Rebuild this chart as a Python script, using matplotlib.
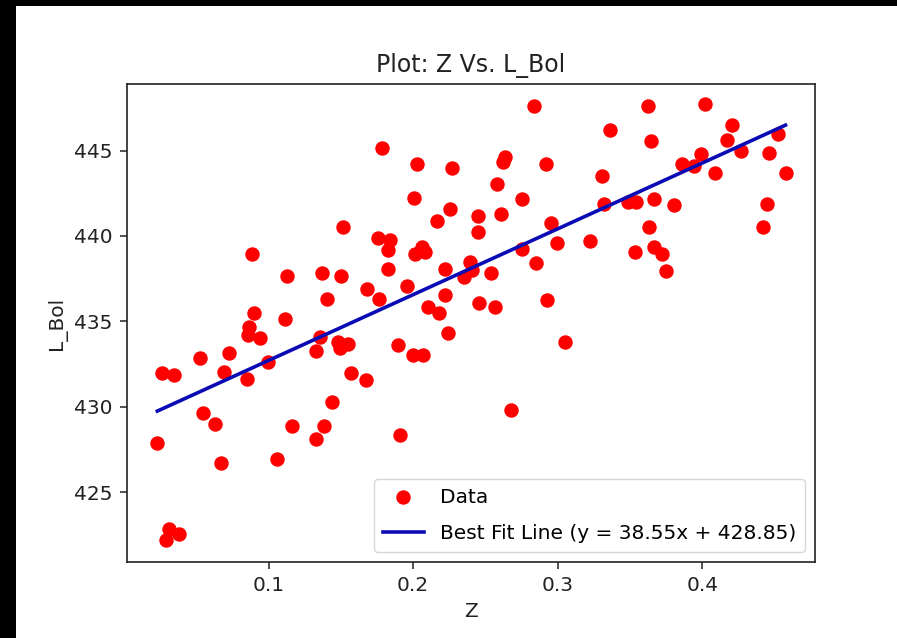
import matplotlib
matplotlib.use("Agg")
import matplotlib.pyplot as plt
from matplotlib.patches import Rectangle
import numpy as np

# Redshift (Z) and bolometric luminosity (L_Bol) samples
z_values = [
    0.1512, 0.0887, 0.1130, 0.1368, 0.1500, 0.1401, 0.0898, 0.1111,
    0.2835, 0.1783, 0.2026, 0.2269, 0.2634, 0.2623, 0.2922, 0.2581,
    0.2009, 0.2750, 0.2252, 0.2165, 0.2449, 0.2609, 0.2449, 0.2951,
    0.1755, 0.1840, 0.1828, 0.2014, 0.2060, 0.2083, 0.2993, 0.2755,
    0.2852, 0.1828, 0.2222, 0.2396, 0.2408, 0.2349, 0.2540, 0.1683,
    0.1956, 0.1766, 0.2222, 0.2106, 0.2181, 0.2453, 0.2565, 0.2924,
    0.3623, 0.4016, 0.3363, 0.4208, 0.4526, 0.3646, 0.4174, 0.4266,
    0.4463, 0.3988, 0.3861, 0.3942, 0.4090, 0.4576, 0.3306, 0.3322,
    0.3484, 0.3542, 0.3665, 0.3808, 0.4449, 0.4417, 0.3634, 0.3222,
    0.3535, 0.3665, 0.3720, 0.3750, 0.0868, 0.0856, 0.0942, 0.1481,
    0.1551, 0.1493, 0.1354, 0.1326, 0.0729, 0.0528, 0.0995, 0.0266,
    0.0347, 0.0694, 0.0852, 0.1569, 0.1672, 0.1440, 0.0544, 0.0630,
    0.1165, 0.1384, 0.1326, 0.0231, 0.1058, 0.0672, 0.0313, 0.0382,
    0.0290, 0.2238, 0.3049, 0.1898, 0.2002, 0.2067, 0.2678, 0.1910,
]
l_bol_values = [
    440.53, 438.97, 437.64, 437.80, 437.64, 436.32, 435.49, 435.12,
    447.61, 445.15, 444.24, 444.00, 444.63, 444.33, 444.24, 443.07,
    442.22, 442.19, 441.55, 440.88, 441.17, 441.27, 440.23, 440.76,
    439.85, 439.75, 439.16, 438.97, 439.36, 439.06, 439.59, 439.26,
    438.44, 438.05, 438.09, 438.48, 437.99, 437.60, 437.80, 436.88,
    437.05, 436.29, 436.53, 435.84, 435.46, 436.10, 435.84, 436.24,
    447.61, 447.75, 446.19, 446.48, 446.00, 445.54, 445.60, 444.98,
    444.88, 444.78, 444.20, 444.08, 443.71, 443.71, 443.50, 441.86,
    441.99, 441.99, 442.19, 441.80, 441.90, 440.53, 440.53, 439.71,
    439.06, 439.36, 438.97, 437.93, 434.67, 434.19, 434.03, 433.79,
    433.66, 433.41, 434.09, 433.27, 433.15, 432.86, 432.62, 431.98,
    431.84, 432.04, 431.61, 431.98, 431.55, 430.28, 429.64, 428.98,
    428.88, 428.86, 428.08, 427.85, 426.93, 426.67, 422.81, 422.52,
    422.18, 434.29, 433.79, 433.64, 433.02, 433.02, 429.80, 428.33,
]

# Linear fit coefficients
fit_slope = 38.55
fit_intercept = 428.85

x_ticks = [0.1, 0.2, 0.3, 0.4]
y_ticks = [425, 430, 435, 440, 445]

W, H, DPI = 897, 638, 100
fig = plt.figure(figsize=(W / DPI, H / DPI), dpi=DPI)
fig.patch.set_facecolor("white")

# Dark frame strips along the left and top edges
fig.add_artist(Rectangle((0, 0), 16 / W, 1, transform=fig.transFigure,
                         facecolor="black", edgecolor="none", zorder=10))
fig.add_artist(Rectangle((0, 1 - 6 / H), 1, 6 / H, transform=fig.transFigure,
                         facecolor="black", edgecolor="none", zorder=10))

ax = fig.add_axes([127 / W, 1 - 562 / H, (815 - 127) / W, (562 - 84) / H])

z = np.array(z_values)
l_bol = np.array(l_bol_values)

ax.scatter(z, l_bol, s=88, color="red", label="Data", zorder=2)

x_line = np.array([z.min(), z.max()])
ax.plot(x_line, fit_slope * x_line + fit_intercept, color="#0b0bb5", lw=2.6,
        label=f"Best Fit Line (y = {fit_slope:.2f}x + {fit_intercept:.2f})",
        zorder=3)

fs = 14.5
ax.set_xlim(0.0021, 0.478)
ax.set_ylim(420.9, 448.9)
ax.set_xticks(x_ticks)
ax.set_yticks(y_ticks)
ax.tick_params(labelsize=fs, length=5.2, width=1.1, pad=5, colors="#222222")
for sp in ax.spines.values():
    sp.set_linewidth(1.2)
    sp.set_color("#222222")

ax.set_xlabel("Z", fontsize=fs, labelpad=5, color="#222222")
ax.set_ylabel("L_Bol", fontsize=fs, labelpad=5, color="#222222")
ax.set_title("Plot: Z Vs. L_Bol", fontsize=17, pad=9, color="#222222")

ax.legend(loc="lower right", fontsize=fs, borderaxespad=0.5,
          labelspacing=0.85, borderpad=0.45, markerscale=1.0, framealpha=0.8)

fig.savefig("out.png", dpi=DPI)
